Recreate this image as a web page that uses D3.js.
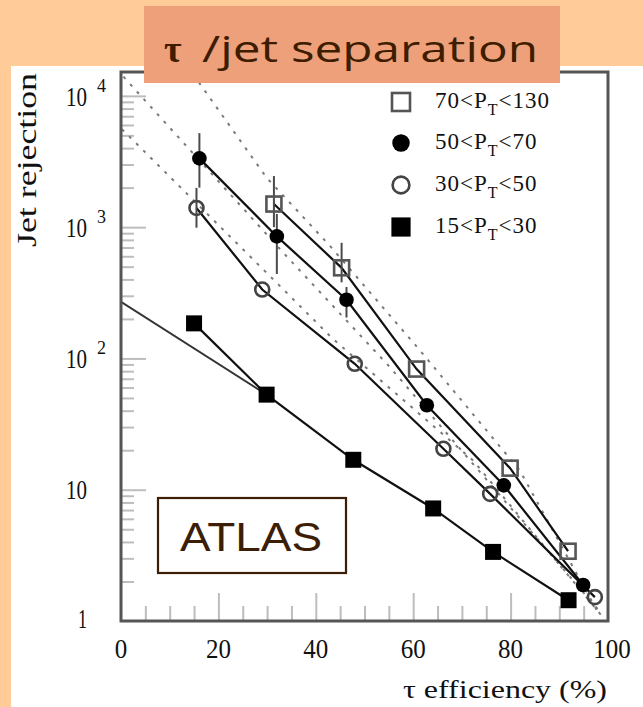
<!DOCTYPE html>
<html>
<head>
<meta charset="utf-8">
<script src="https://cdn.jsdelivr.net/npm/d3@7/dist/d3.min.js"></script>
<style>
  html, body { margin: 0; padding: 0; background: #FFCC99; }
  svg { display: block; }
  text { font-variant-ligatures: none; }
</style>
</head>
<body>
<script>
// pT bins (GeV) shown in the legend, top to bottom
const ptBins = [[70, 130], [50, 70], [30, 50], [15, 30]];

// 70 < pT < 130 : open squares
const effPt70 = [31.4, 45.3, 60.7, 79.9, 91.8];
const rejPt70 = [1500, 490, 83, 14.6, 3.4];
const errPt70 = [[31.4, 1000, 2450], [45.3, 380, 760]];

// 50 < pT < 70 : filled circles
const effPt50 = [16.1, 32.0, 46.3, 62.8, 78.6, 94.9];
const rejPt50 = [3340, 850, 280, 44, 10.8, 1.88];
const errPt50 = [[16.1, 2000, 5200], [32.0, 440, 1260], [46.3, 205, 350]];

// 30 < pT < 50 : open circles
const effPt30 = [15.5, 29.0, 48.0, 66.2, 75.8, 97.3];
const rejPt30 = [1400, 335, 91, 20.5, 9.3, 1.52];
const errPt30 = [[15.5, 990, 1990]];

// 15 < pT < 30 : filled squares
const effPt15 = [15.0, 29.9, 47.7, 64.1, 76.4, 91.9];
const rejPt15 = [185, 53, 16.9, 7.2, 3.36, 1.44];
// straight-line extrapolation of the lowest bin towards zero efficiency
const effPt15Fit = [0, 29.9];
const rejPt15Fit = [270, 53];

// dotted parametrisation curves
const guideEff1 = [0.5, 33.3, 55.2, 98.4];
const guideRej1 = [14000, 640, 86, 1.17];
const guideEff2 = [0.2, 32.6, 43.5, 72.3, 99.4];
const guideRej2 = [5570, 357, 141, 16.7, 1.02];
const guideEff3 = [14.8, 29.9, 42.9, 61.4, 81.9, 97.9];
const guideRej3 = [14600, 2380, 720, 115, 14, 1.17];

// axis ticks
const xMajorTicks = [0, 20, 40, 60, 80, 100];
const xMinorTicks = [5, 10, 15, 25, 30, 35, 45, 50, 55, 65, 70, 75, 85, 90, 95];
const yDecadeExps = [0, 1, 2, 3, 4];
const yMinorMult = [2, 3, 4, 5, 6, 7, 8, 9];

const W = 643, H = 707;
const svg = d3.select("body").append("svg").attr("width", W).attr("height", H);

// white page panel
svg.append("rect").attr("x", 11).attr("y", 66).attr("width", W - 11).attr("height", H - 66)
  .attr("fill", "#ffffff");

const x = d3.scaleLinear().domain([0, 100]).range([121, 608]);
const y = d3.scaleLog().domain([1, 15200]).range([621, 72]);

const plot = svg.append("g");
const clip = svg.append("clipPath").attr("id", "plotclip");
clip.append("rect").attr("x", x(0)).attr("y", y.range()[1])
  .attr("width", x(100) - x(0)).attr("height", y.range()[0] - y.range()[1]);

// ---- ticks (inward, grey) ----
const tickCol = "#bdbdbd";
function styleTicks(g) {
  g.select(".domain").remove();
  g.selectAll(".tick line").attr("stroke", tickCol).attr("stroke-width", 2);
  g.selectAll(".tick text").remove();
}
plot.append("g").attr("transform", `translate(0,${y(1)})`)
  .call(d3.axisTop(x).tickValues(xMinorTicks).tickSize(15).tickFormat(""))
  .call(styleTicks);
plot.append("g").attr("transform", `translate(0,${y(1)})`)
  .call(d3.axisTop(x).tickValues([20, 40, 60, 80]).tickSize(28).tickFormat(""))
  .call(styleTicks);

const yMinor = [];
yDecadeExps.forEach(e => yMinorMult.forEach(m => {
  const v = m * Math.pow(10, e);
  if (v < y.domain()[1]) yMinor.push(v);
}));
plot.append("g").attr("transform", `translate(${x(0)},0)`)
  .call(d3.axisRight(y).tickValues(yMinor).tickSize(13).tickFormat(""))
  .call(styleTicks);
plot.append("g").attr("transform", `translate(${x(0)},0)`)
  .call(d3.axisRight(y).tickValues([10, 100, 1000, 10000]).tickSize(25).tickFormat(""))
  .call(styleTicks);

// ---- tick labels ----
const serif = "'Liberation Serif','DejaVu Serif',serif";
const xl = svg.append("g").attr("font-family", serif).attr("font-size", 27).attr("fill", "#111");
xMajorTicks.forEach(v => {
  const s = String(v);
  xl.append("text").attr("x", x(v) + (v === 100 ? 4 : 0)).attr("y", 658)
    .attr("text-anchor", "middle")
    .attr("textLength", 12.5 * s.length).attr("lengthAdjust", "spacingAndGlyphs")
    .text(s);
});
const yl = svg.append("g").attr("font-family", serif).attr("fill", "#111");
yDecadeExps.forEach(e => {
  const py = y(Math.pow(10, e));
  if (e === 0) {
    yl.append("text").attr("x", 87).attr("y", py + 7).attr("text-anchor", "end")
      .attr("font-size", 27).attr("textLength", 9).attr("lengthAdjust", "spacingAndGlyphs").text("1");
  } else if (e === 1) {
    yl.append("text").attr("x", 87).attr("y", py + 9).attr("text-anchor", "end")
      .attr("font-size", 27).attr("textLength", 21).attr("lengthAdjust", "spacingAndGlyphs").text("10");
  } else {
    yl.append("text").attr("x", 87).attr("y", py + 10).attr("text-anchor", "end")
      .attr("font-size", 27).attr("textLength", 21).attr("lengthAdjust", "spacingAndGlyphs").text("10");
    yl.append("text").attr("x", 97).attr("y", py - 4)
      .attr("font-size", 19).attr("textLength", 9).attr("lengthAdjust", "spacingAndGlyphs").text(String(e));
  }
});

// axis titles
svg.append("text").attr("font-family", serif).attr("font-size", 25).attr("fill", "#111")
  .attr("x", 403).attr("y", 698)
  .attr("textLength", 204).attr("lengthAdjust", "spacingAndGlyphs")
  .text("τ efficiency (%)");
svg.append("text").attr("font-family", serif).attr("font-size", 27).attr("fill", "#111")
  .attr("transform", "translate(36,247) rotate(-90)")
  .attr("textLength", 174).attr("lengthAdjust", "spacingAndGlyphs")
  .text("Jet rejection");

// ---- curves ----
const lineGen = d3.line().x(d => x(d[0])).y(d => y(d[1]));
const zip = (a, b) => a.map((v, i) => [v, b[i]]);
const curves = svg.append("g").attr("clip-path", "url(#plotclip)").attr("fill", "none");

[[guideEff1, guideRej1], [guideEff2, guideRej2], [guideEff3, guideRej3]].forEach(([e, r]) => {
  curves.append("path").attr("d", lineGen(zip(e, r)))
    .attr("stroke", "#7a7a7a").attr("stroke-width", 2).attr("stroke-dasharray", "3 7");
});

curves.append("path").attr("d", lineGen(zip(effPt15Fit, rejPt15Fit)))
  .attr("stroke", "#333").attr("stroke-width", 2);

const seriesData = [
  { eff: effPt70, rej: rejPt70, err: errPt70, marker: "openSquare" },
  { eff: effPt50, rej: rejPt50, err: errPt50, marker: "dot" },
  { eff: effPt30, rej: rejPt30, err: errPt30, marker: "openCircle" },
  { eff: effPt15, rej: rejPt15, err: [], marker: "square" }
];

seriesData.forEach(s => {
  curves.append("path").attr("d", lineGen(zip(s.eff, s.rej)))
    .attr("stroke", "#111").attr("stroke-width", 2.2);
});

// error bars
const errG = svg.append("g").attr("stroke", "#4a4a4a").attr("stroke-width", 2);
seriesData.forEach(s => {
  s.err.forEach(([e, lo, hi]) => {
    errG.append("line").attr("x1", x(e)).attr("x2", x(e)).attr("y1", y(lo)).attr("y2", y(hi));
  });
});

// markers
function drawMarker(g, kind, cx, cy, big) {
  const k = big ? 1.2 : 1;
  if (kind === "openSquare") {
    const s = 15 * k;
    g.append("rect").attr("x", cx - s / 2).attr("y", cy - s / 2).attr("width", s).attr("height", s)
      .attr("fill", "none").attr("stroke", "#555").attr("stroke-width", 2.6);
  } else if (kind === "dot") {
    g.append("circle").attr("cx", cx).attr("cy", cy).attr("r", 7.3 * k).attr("fill", "#000");
  } else if (kind === "openCircle") {
    g.append("circle").attr("cx", cx).attr("cy", cy).attr("r", 7 * k)
      .attr("fill", "none").attr("stroke", "#444").attr("stroke-width", 2.6);
  } else {
    const s = 16 * k;
    g.append("rect").attr("x", cx - s / 2).attr("y", cy - s / 2).attr("width", s).attr("height", s)
      .attr("fill", "#000");
  }
}
const markG = svg.append("g");
seriesData.forEach(s => {
  s.eff.forEach((e, i) => drawMarker(markG, s.marker, x(e), y(s.rej[i]), false));
});

// frame
svg.append("rect").attr("x", x(0)).attr("y", y.range()[1])
  .attr("width", x(100) - x(0)).attr("height", y.range()[0] - y.range()[1])
  .attr("fill", "none").attr("stroke", "#555").attr("stroke-width", 3);

// ---- legend ----
const legend = svg.append("g");
const legendY = [102, 143, 185, 227];
seriesData.forEach((s, i) => {
  drawMarker(legend, s.marker, 401, legendY[i], true);
  const t = legend.append("text").attr("font-family", serif).attr("font-size", 23).attr("fill", "#111")
    .attr("x", 435).attr("y", legendY[i] + 6).attr("letter-spacing", 1);
  t.append("tspan").text(`${ptBins[i][0]}<P`);
  t.append("tspan").attr("font-size", 16).attr("dy", 7).text("T");
  t.append("tspan").attr("dy", -7).text(`<${ptBins[i][1]}`);
});

// ---- experiment label ----
svg.append("rect").attr("x", 158).attr("y", 498).attr("width", 188).attr("height", 75)
  .attr("fill", "#fff").attr("stroke", "#3b1e05").attr("stroke-width", 2.2);
svg.append("text").attr("x", 180).attr("y", 551)
  .attr("font-family", "'Liberation Sans',Arial,sans-serif").attr("font-size", 40)
  .attr("fill", "#3b1e05").attr("textLength", 142).attr("lengthAdjust", "spacingAndGlyphs")
  .text("ATLAS");

// ---- title banner ----
svg.append("rect").attr("x", 144).attr("y", 6).attr("width", 416).attr("height", 77)
  .attr("fill", "#EDA07A");
svg.append("text").attr("x", 164).attr("y", 62)
  .attr("font-family", serif).attr("font-weight", "bold").attr("font-size", 38)
  .attr("fill", "#3d1c00").text("τ");
svg.append("text").attr("x", 202).attr("y", 62)
  .attr("font-family", "'Open Sans','Noto Sans',sans-serif").attr("font-size", 37)
  .attr("fill", "#3d1c00").attr("textLength", 336).attr("lengthAdjust", "spacingAndGlyphs")
  .text("/jet separation");
</script>
</body>
</html>
